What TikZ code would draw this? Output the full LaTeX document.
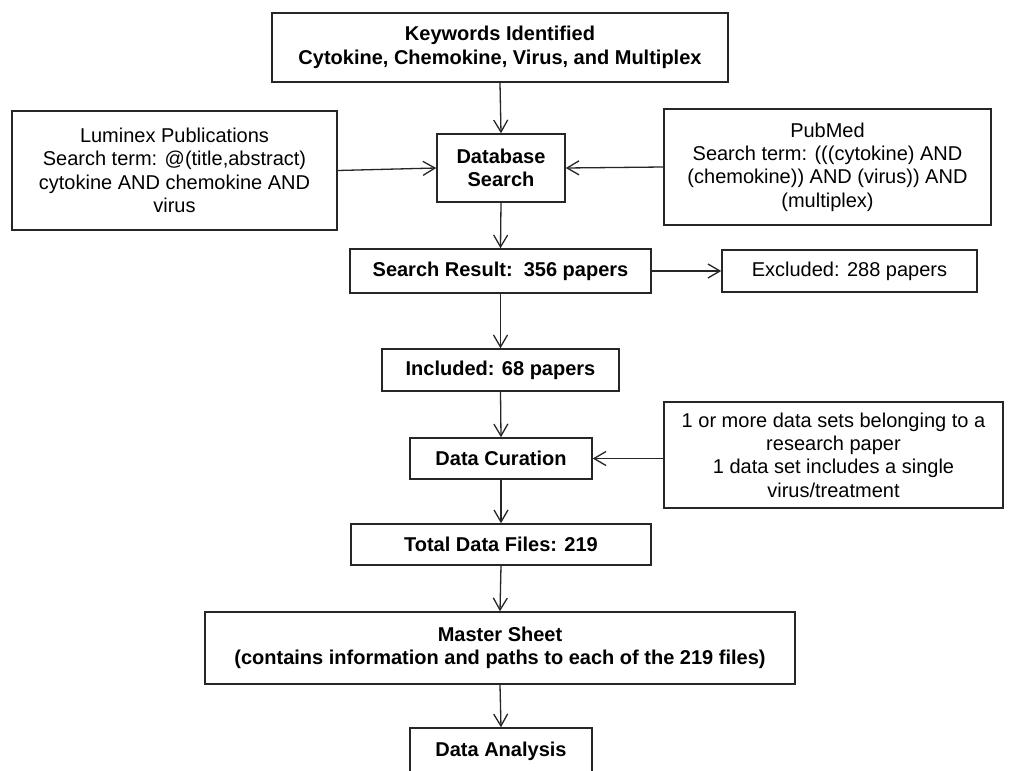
\documentclass[tikz,border=0pt]{standalone}
\usepackage{fontspec}
\setmainfont{Liberation Sans}
\usetikzlibrary{arrows.meta}
\tikzset{
    >={Straight Barb[length=6pt,width=7pt]},
    every picture/.style={line width=0.65pt},
    box/.style={draw=black!85,line width=0.75pt,align=center,inner sep=0pt,font=\fontsize{10}{11.7}\selectfont},
    boldbox/.style={box,font=\fontsize{10}{11.7}\selectfont\bfseries},
    flow/.style={->,draw=black!85,line width=0.65pt}
}
\begin{document}
\begin{tikzpicture}[x=0.5pt,y=-0.5pt]
    \useasboundingbox (0,0) rectangle (1019,771);
    \fill[white] (0,0) rectangle (1019,771);
    \clip (0,0) rectangle (1019,771);

    % search stage
    \node[boldbox,minimum width=228pt,minimum height=34.5pt] (kw) at (500,47.5)
        {Keywords Identified\\Cytokine, Chemokine, Virus, and Multiplex};
    \node[boldbox,minimum width=64pt,minimum height=34pt] (db) at (501,168)
        {Database\\Search};
    \node[box,minimum width=162.5pt,minimum height=59.5pt] (lum) at (174.5,170.5)
        {Luminex Publications\\Search term: @(title,abstract)\\cytokine AND chemokine AND\\virus};
    \node[box,minimum width=163.5pt,minimum height=58pt] (pm) at (827.5,167)
        {PubMed\\Search term: (((cytokine) AND\\(chemokine)) AND (virus)) AND\\(multiplex)};
    \node[boldbox,minimum width=150.5pt,minimum height=22pt] (sr) at (500.5,271)
        {Search Result:\ \ 356 papers};
    \node[box,minimum width=127.5pt,minimum height=21pt] (ex) at (849.5,271)
        {Excluded: 288 papers};
    \node[boldbox,minimum width=118.5pt,minimum height=21pt] (inc) at (500.5,370)
        {Included: 68 papers};

    % curation stage
    \node[boldbox,minimum width=91pt,minimum height=20.5pt] (dc) at (501,458.5)
        {Data Curation};
    \node[box,minimum width=169.5pt,minimum height=53pt] (note) at (833.5,455)
        {1 or more data sets belonging to a\\research paper\\1 data set includes a single\\virus/treatment};
    \node[boldbox,minimum width=150pt,minimum height=20.5pt] (tdf) at (501,544.5)
        {Total Data Files: 219};
    \node[boldbox,minimum width=295pt,minimum height=36pt] (ms) at (500,648)
        {Master Sheet\\(contains information and paths to each of the 219 files)};
    \node[boldbox,minimum width=91pt,minimum height=23pt] (da) at (501,751)
        {Data Analysis};

    \draw[flow] (kw.south) -- (db.north);
    \draw[flow] (lum.east) -- (db.west);
    \draw[flow] (pm.west) -- (db.east);
    \draw[flow] (db.south) -- (sr.north);
    \draw[flow] (sr.east) -- (ex.west);
    \draw[flow] (sr.south) -- (inc.north);
    \draw[flow] (inc.south) -- (dc.north);
    \draw[flow] (note.west |- dc.east) -- (dc.east);
    \draw[flow] (dc.south) -- (tdf.north);
    \draw[flow] (tdf.south) -- (ms.north);
    \draw[flow] (ms.south) -- (da.north);
\end{tikzpicture}
\end{document}
